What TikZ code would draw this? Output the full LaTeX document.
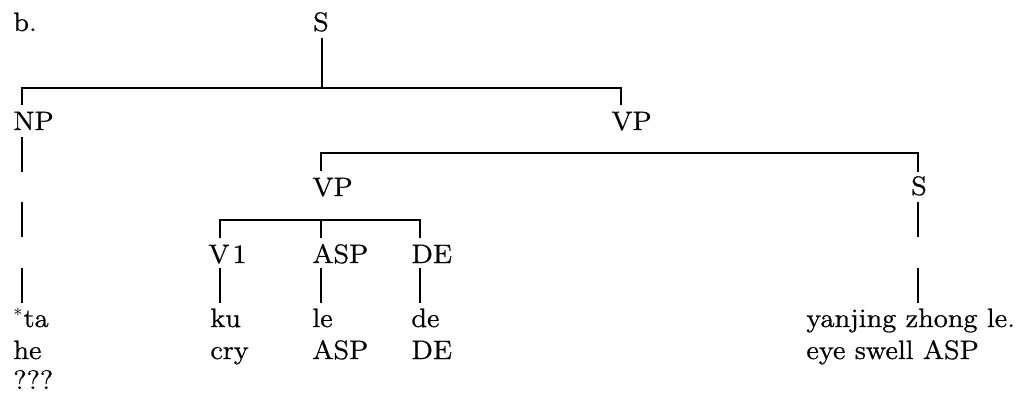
\documentclass[tikz,border=0pt]{standalone}
\usepackage{fontspec}
\setmainfont{lmroman12-regular}[Extension=.otf, FakeStretch=1.08, FakeBold=0.9]
\begin{document}
\begin{tikzpicture}[x=0.5pt,y=-0.5pt,
  lbl/.style={inner sep=0pt, anchor=base west, font=\fontsize{13.3}{15}\selectfont},
  edge/.style={line width=1.4pt, line cap=butt}]
\useasboundingbox (0,0) rectangle (1031,395);
% labels
\node[lbl] (b) at (13,31) {b.};
\node[lbl,anchor=base] (S0) at (321,31) {S};
\node[lbl] (NP) at (13,130) {NP};
\node[lbl] (VPa) at (611,130) {VP};
\node[lbl] (VPb) at (312,196) {VP};
\node[lbl,anchor=base] (S1) at (919,195) {S};
\node[lbl] (V1) at (208,263) {V\kern1.5pt1};
\node[lbl] (ASPa) at (312,263) {ASP};
\node[lbl] (DEa) at (411,263) {DE};
\node[lbl] (ta) at (13,327) {$^*$ta};
\node[lbl] (he) at (13,359) {he};
\node[lbl] (q) at (13,389) {???};
\node[lbl] (ku) at (210,327) {ku};
\node[lbl] (cry) at (210,359) {cry};
\node[lbl] (le) at (312,327) {le};
\node[lbl] (ASPb) at (312,359) {ASP};
\node[lbl] (de) at (411,327) {de};
\node[lbl] (DEb) at (411,359) {DE};
\node[lbl] (yz) at (806,327) {yanjing zhong le.};
\node[lbl] (es) at (806,359) {eye swell ASP};
% S -> NP VP
\draw[edge] (322,38) -- (322,88);
\draw[edge] (22,105) -- (22,88) -- (621,88) -- (621,105);
% NP -> *ta
\draw[edge] (22,137) -- (22,172);
\draw[edge] (22,202) -- (22,237);
\draw[edge] (22,268) -- (22,303);
% VP -> VP S
\draw[edge] (321,171) -- (321,153) -- (918,153) -- (918,172);
% VP -> V1 ASP DE
\draw[edge] (220,238) -- (220,220) -- (420,220) -- (420,238);
\draw[edge] (321,220) -- (321,238);
\draw[edge] (220,268) -- (220,303);
\draw[edge] (321,268) -- (321,303);
\draw[edge] (420,268) -- (420,303);
% S -> yanjing zhong le.
\draw[edge] (918,202) -- (918,237);
\draw[edge] (918,268) -- (918,303);
\end{tikzpicture}
\end{document}
